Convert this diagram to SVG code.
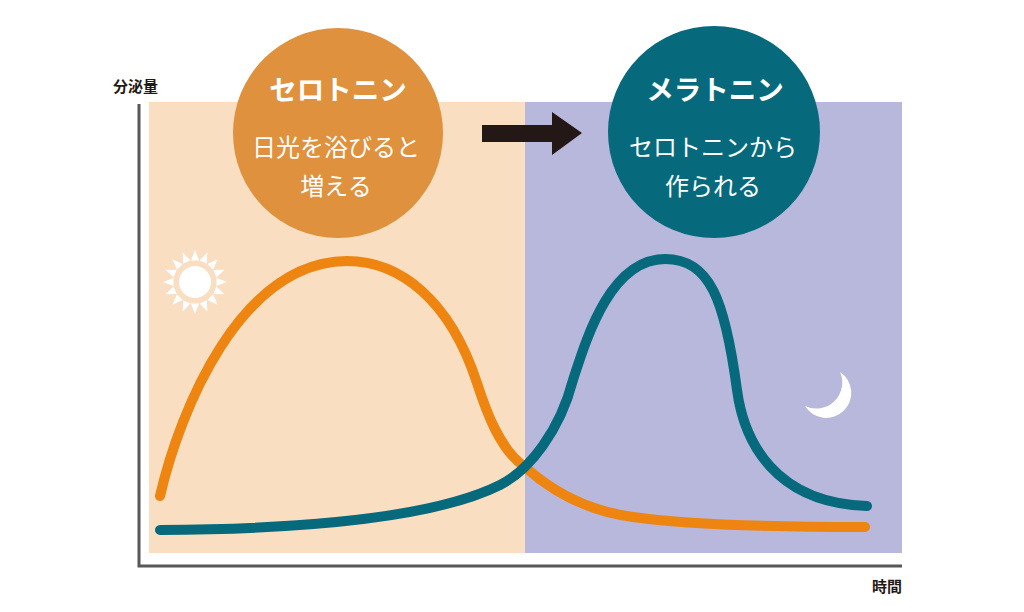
<svg xmlns="http://www.w3.org/2000/svg" xmlns:xlink="http://www.w3.org/1999/xlink" width="1024" height="612" viewBox="0 0 1024 612">
<style>
.axis{fill:none;stroke:#58585a;stroke-width:3}
.curve{fill:none;stroke-width:10;stroke-linecap:round;stroke-linejoin:round}
.ser{stroke:#ee8510}
.mel{stroke:#066a7c}
.lbl{font-family:"Noto Sans CJK JP","Noto Sans",sans-serif;font-weight:bold;fill:#231815}
.title{font-family:"Noto Sans CJK JP","Noto Sans",sans-serif;font-weight:bold;fill:#fff;font-size:27.5px;text-anchor:middle}
.sub{font-family:"Noto Sans CJK JP","Noto Sans",sans-serif;font-weight:400;fill:#fff;font-size:24px;text-anchor:middle}
</style>
<defs>
<polygon id="ray" points="0,-32 -4,-21.5 4,-21.5" fill="#fff"/>
</defs>
<rect width="1024" height="612" fill="#fff"/>
<g id="day-bg"><rect x="149" y="102" width="376" height="451" fill="#fadec1"/></g>
<g id="night-bg"><rect x="525" y="102" width="377" height="451" fill="#b8b8dc"/></g>
<g id="axes">
<path class="axis" d="M139,104 L139,566 L902,566"/>
<text class="lbl" x="113" y="92" font-size="15" textLength="45">分泌量</text>
<text class="lbl" x="872" y="592" font-size="15" textLength="30">時間</text>
</g>
<g id="sun" transform="translate(195,282)">
<circle r="16" fill="#fff"/>
<use xlink:href="#ray"/>
<use xlink:href="#ray" transform="rotate(22.5)"/>
<use xlink:href="#ray" transform="rotate(45)"/>
<use xlink:href="#ray" transform="rotate(67.5)"/>
<use xlink:href="#ray" transform="rotate(90)"/>
<use xlink:href="#ray" transform="rotate(112.5)"/>
<use xlink:href="#ray" transform="rotate(135)"/>
<use xlink:href="#ray" transform="rotate(157.5)"/>
<use xlink:href="#ray" transform="rotate(180)"/>
<use xlink:href="#ray" transform="rotate(202.5)"/>
<use xlink:href="#ray" transform="rotate(225)"/>
<use xlink:href="#ray" transform="rotate(247.5)"/>
<use xlink:href="#ray" transform="rotate(270)"/>
<use xlink:href="#ray" transform="rotate(292.5)"/>
<use xlink:href="#ray" transform="rotate(315)"/>
<use xlink:href="#ray" transform="rotate(337.5)"/>
</g>
<g id="moon">
<path d="M840,372 A25,25 0 1 1 805,406 A26,26 0 0 0 840,372 Z" fill="#fff"/>
</g>
<g id="connectors">
<path class="curve ser" d="M160,496 C180,410 240,262 347,261 C400,261 450,300 477,383 C486,411 500,450 525,467 C545,485 580,510 633,517 C680,524 760,527 865,527"/>
<path class="curve mel" d="M160,530 C320,529 440,515 500,485 C530,470 560,430 573,380 C586,340 610,259 665,259 C710,259 725,300 737,390 C744,442 775,503 867,506"/>
<path d="M482,125 L552,125 L552,112 L582,133 L552,155 L552,142 L482,142 Z" fill="#231815"/>
</g>
<g id="serotonin">
<circle cx="338" cy="133" r="105" fill="#e0913e"/>
<text class="title" x="338" y="100">セロトニン</text>
<text class="sub" x="336" y="156">日光を浴びると</text>
<text class="sub" x="336" y="195">増える</text>
</g>
<g id="melatonin">
<circle cx="714" cy="132" r="106" fill="#066a7c"/>
<text class="title" x="715" y="100">メラトニン</text>
<text class="sub" x="713" y="156">セロトニンから</text>
<text class="sub" x="713" y="195">作られる</text>
</g>
</svg>
